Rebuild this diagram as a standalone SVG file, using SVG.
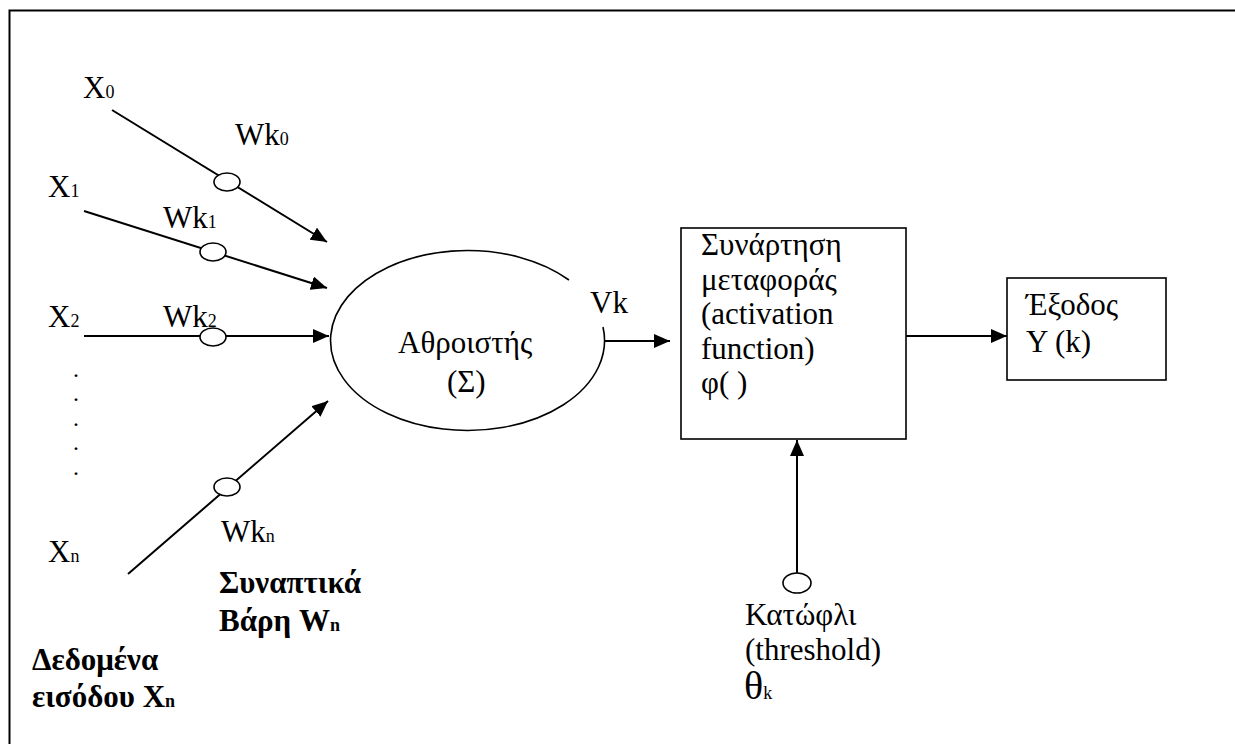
<svg xmlns="http://www.w3.org/2000/svg" width="1235" height="744" viewBox="0 0 1235 744">
  <style>
    text { font-family: "Liberation Serif", "Times New Roman", serif; font-size: 31px; fill: #000; }
    .b { font-weight: bold; }
    .sub { font-size: 18px; }
    .dot { font-size: 24px; }
    .edge { stroke: #000; stroke-width: 2; fill: none; }
    .box { stroke: #000; stroke-width: 1.6; fill: #fff; }
    .knob { stroke: #000; stroke-width: 1.6; fill: #fff; }
  </style>
  <defs>
    <marker id="arrow" markerUnits="userSpaceOnUse" markerWidth="18" markerHeight="14" refX="16" refY="7" orient="auto">
      <path d="M0,0 L16,7 L0,14 Z" fill="#000"/>
    </marker>
  </defs>

  <rect width="1235" height="744" fill="#fff"/>
  <!-- outer frame (open at right and bottom) -->
  <path d="M9.5,744 V10.5 H1235" stroke="#000" stroke-width="2" fill="none"/>

  <!-- connectors -->
  <g id="connectors">
    <line class="edge" x1="112" y1="110" x2="327" y2="242" marker-end="url(#arrow)"/>
    <line class="edge" x1="84" y1="211" x2="327" y2="288" marker-end="url(#arrow)"/>
    <line class="edge" x1="84" y1="336" x2="329" y2="336" marker-end="url(#arrow)"/>
    <line class="edge" x1="128" y1="574" x2="328" y2="401" marker-end="url(#arrow)"/>
    <line class="edge" x1="605" y1="341" x2="670" y2="341" marker-end="url(#arrow)"/>
    <line class="edge" x1="906" y1="336" x2="1007" y2="336" marker-end="url(#arrow)"/>
    <line class="edge" x1="797" y1="573" x2="797" y2="440" marker-end="url(#arrow)"/>
  </g>

  <!-- inputs -->
  <g id="inputs">
    <text x="83" y="98">X<tspan class="sub">0</tspan></text>
    <text x="48" y="197">X<tspan class="sub">1</tspan></text>
    <text x="48" y="327">X<tspan class="sub">2</tspan></text>
    <text class="dot" x="73" y="377">.</text>
    <text class="dot" x="73" y="401">.</text>
    <text class="dot" x="73" y="426">.</text>
    <text class="dot" x="73" y="450">.</text>
    <text class="dot" x="73" y="475">.</text>
    <text x="48" y="562">X<tspan class="sub">n</tspan></text>
  </g>

  <!-- synaptic weights -->
  <g id="weights">
    <text x="235" y="145">Wk<tspan class="sub">0</tspan></text>
    <text x="163" y="228">Wk<tspan class="sub">1</tspan></text>
    <text x="163" y="327">Wk<tspan class="sub">2</tspan></text>
    <text x="221" y="542">Wk<tspan class="sub">n</tspan></text>
    <ellipse class="knob" cx="227" cy="182" rx="13" ry="9"/>
    <ellipse class="knob" cx="213" cy="252" rx="13" ry="9"/>
    <ellipse class="knob" cx="213" cy="337" rx="13" ry="9"/>
    <ellipse class="knob" cx="227" cy="487" rx="13" ry="9"/>
  </g>

  <g id="legend-weights">
    <text class="b" x="219" y="593">Συναπτικά</text>
    <text class="b" x="219" y="631">Βάρη W<tspan class="sub">n</tspan></text>
  </g>
  <g id="legend-inputs">
    <text class="b" x="32" y="670">Δεδομένα</text>
    <text class="b" x="32" y="707">εισόδου X<tspan class="sub">n</tspan></text>
  </g>

  <!-- summing junction -->
  <g id="summer">
    <path d="M603,327 A137,90 0 1 1 569,280" stroke="#000" stroke-width="1.6" fill="none"/>
    <text x="398" y="353">Αθροιστής</text>
    <text x="447" y="392">(Σ)</text>
    <text x="590" y="313">Vk</text>
  </g>

  <!-- activation function -->
  <g id="activation">
    <rect class="box" x="681" y="228" width="225" height="211"/>
    <text x="701" y="255">Συνάρτηση</text>
    <text x="701" y="290">μεταφοράς</text>
    <text x="701" y="324">(activation</text>
    <text x="701" y="359">function)</text>
    <text x="701" y="393">φ( )</text>
  </g>

  <!-- output -->
  <g id="output">
    <rect class="box" x="1007" y="278" width="159" height="102"/>
    <text x="1026" y="315">Έξοδος</text>
    <text x="1026" y="352">Y (k)</text>
  </g>

  <!-- threshold -->
  <g id="threshold">
    <ellipse class="knob" cx="797" cy="583" rx="14" ry="10"/>
    <text x="745" y="625">Κατώφλι</text>
    <text x="745" y="660">(threshold)</text>
    <text x="744" y="699"><tspan font-size="40">θ</tspan><tspan class="sub">k</tspan></text>
  </g>
</svg>
